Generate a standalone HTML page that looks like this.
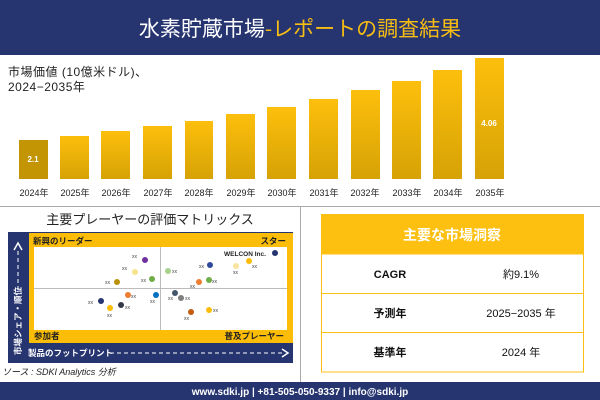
<!DOCTYPE html><html><head><meta charset="utf-8"><style>
*{margin:0;padding:0;box-sizing:border-box}
body{width:600px;height:400px;background:#fff;position:relative;overflow:hidden;font-family:"Liberation Sans","Noto Sans CJK JP",sans-serif}
.a{position:absolute}
</style></head><body>
<div class="a" style="left:0;top:0;width:600px;height:55px;background:#263470"></div>
<div class="a" style="left:0;top:13px;width:600px;text-align:center;font-size:21px;color:#fff;font-family:'Noto Sans CJK JP',sans-serif;line-height:30px">水素貯蔵市場<span style="color:#f7bd12">-レポートの調査結果</span></div>
<div class="a" style="left:8px;top:65px;font-size:12px;line-height:15px;color:#222;letter-spacing:.5px">市場価値 (10億米ドル)、<br>2024−2035年</div>
<svg class="a" style="left:0;top:0" width="600" height="400" font-family="Liberation Sans,Noto Sans CJK JP,sans-serif">
<defs><linearGradient id="g" x1="0" y1="0" x2="0" y2="1"><stop offset="0" stop-color="#fdbf0c"/><stop offset="1" stop-color="#d6a205"/></linearGradient></defs>
<g fill="url(#g)">
<rect x="19" y="140" width="29" height="39" fill="#c39505"/>
<rect x="60" y="136" width="29" height="43"/>
<rect x="101" y="131" width="29" height="48"/>
<rect x="143" y="126" width="29" height="53"/>
<rect x="185" y="121" width="28" height="58"/>
<rect x="226" y="114" width="29" height="65"/>
<rect x="267" y="107" width="29" height="72"/>
<rect x="309" y="99" width="29" height="80"/>
<rect x="351" y="90" width="29" height="89"/>
<rect x="392" y="81" width="29" height="98"/>
<rect x="433" y="70" width="29" height="109"/>
<rect x="475" y="58" width="29" height="121"/>
</g>
<text x="33" y="162" font-size="8" fill="#fff" font-weight="bold" text-anchor="middle">2.1</text>
<text x="489" y="126" font-size="8" fill="#fff" font-weight="bold" text-anchor="middle">4.06</text>
<g font-size="9" fill="#222" text-anchor="middle">
<text x="34" y="196">2024年</text><text x="75" y="196">2025年</text><text x="116" y="196">2026年</text><text x="158" y="196">2027年</text><text x="199" y="196">2028年</text><text x="241" y="196">2029年</text><text x="282" y="196">2030年</text><text x="324" y="196">2031年</text><text x="365" y="196">2032年</text><text x="407" y="196">2033年</text><text x="448" y="196">2034年</text><text x="490" y="196">2035年</text>
</g>
<line x1="0" y1="206.5" x2="600" y2="206.5" stroke="#aaa"/>
<line x1="300.5" y1="206" x2="300.5" y2="382" stroke="#aaa"/>
<text x="150" y="224" font-size="13" fill="#222" text-anchor="middle">主要プレーヤーの評価マトリックス</text>
<rect x="8" y="232" width="285" height="131" fill="#263470"/>
<rect x="29" y="233" width="264" height="110" fill="#fbbd08"/>
<rect x="34" y="247" width="253" height="83" fill="#fff"/>
<line x1="160.5" y1="247" x2="160.5" y2="330" stroke="#bbb"/>
<line x1="34" y1="288.5" x2="287" y2="288.5" stroke="#bbb"/>
<g font-size="8.5" fill="#222" font-weight="bold"><text x="33" y="244">新興のリーダー</text><text x="286" y="244" text-anchor="end">スター</text><text x="34" y="339">参加者</text><text x="284" y="339" text-anchor="end">普及プレーヤー</text></g>
<text x="28" y="356" font-size="8.5" fill="#fff" font-weight="bold">製品のフットプリント</text>
<line x1="110" y1="353" x2="283" y2="353" stroke="#fff" stroke-dasharray="4,3"/>
<path d="M282 349 L288 353 L282 357" fill="none" stroke="#fff" stroke-width="1.5"/>
<text transform="translate(21,355) rotate(-90)" font-size="8.5" fill="#fff" font-weight="bold">市場シェア・順位</text>
<line x1="18" y1="290" x2="18" y2="250" stroke="#fff" stroke-dasharray="4,3"/>
<path d="M14 250 L18 243 L22 250" fill="none" stroke="#fff" stroke-width="1.5"/>
<text x="224" y="256" font-size="6.5" font-weight="bold" fill="#222">WELCON Inc.</text>
<g font-size="5" fill="#444">
<text x="132" y="258">xx</text><text x="122" y="270">xx</text><text x="141" y="282">xx</text><text x="105" y="284">xx</text><text x="131" y="298">xx</text><text x="150" y="303">xx</text><text x="88" y="304">xx</text><text x="125" y="309">xx</text><text x="107" y="317">xx</text>
<text x="172" y="273">xx</text><text x="199" y="268">xx</text><text x="233" y="274">xx</text><text x="252" y="268">xx</text><text x="190" y="288">xx</text><text x="212" y="283">xx</text><text x="168" y="300">xx</text><text x="185" y="300">xx</text><text x="184" y="320">xx</text><text x="213" y="312">xx</text>
</g>
<circle cx="145" cy="260" r="3" fill="#7030a0"/><circle cx="135" cy="272" r="3" fill="#f5e38c"/><circle cx="152" cy="279" r="3" fill="#70ad47"/><circle cx="117" cy="282" r="3" fill="#b8900a"/><circle cx="128" cy="295" r="3" fill="#ed7d31"/><circle cx="156" cy="295" r="3" fill="#0070c0"/><circle cx="101" cy="301" r="3" fill="#263470"/><circle cx="121" cy="305" r="3" fill="#333848"/><circle cx="110" cy="308" r="3" fill="#fbbd08"/>
<circle cx="168" cy="271" r="3" fill="#a9d18e"/><circle cx="210" cy="265" r="3" fill="#2f4a9a"/><circle cx="236" cy="266" r="3" fill="#f7e4a0"/><circle cx="249" cy="261" r="3" fill="#fbbd08"/><circle cx="275" cy="253" r="3" fill="#263470"/><circle cx="199" cy="282" r="3" fill="#ed7d31"/><circle cx="209" cy="280" r="3" fill="#70ad47"/><circle cx="175" cy="293" r="3" fill="#44546a"/><circle cx="181" cy="298" r="3" fill="#7f7f7f"/><circle cx="191" cy="312" r="3" fill="#c55a11"/><circle cx="209" cy="310" r="3" fill="#fbbd08"/>
<text x="2" y="375" font-size="9" font-style="italic" fill="#222">ソース : SDKI Analytics 分析</text>
<rect x="321" y="214" width="263" height="40" fill="#fdc010"/>
<text x="452" y="240" font-size="14" fill="#fff" text-anchor="middle" font-weight="bold">主要な市場洞察</text>
<rect x="321.5" y="254" width="262" height="118" fill="none" stroke="#fdc010"/>
<line x1="321" y1="293.5" x2="584" y2="293.5" stroke="#fdc010"/>
<line x1="321" y1="332.5" x2="584" y2="332.5" stroke="#fdc010"/>
<g font-size="11" fill="#111" text-anchor="middle"><text x="390" y="278" font-weight="bold">CAGR</text><text x="390" y="317" font-weight="bold">予測年</text><text x="390" y="356" font-weight="bold">基準年</text>
<text x="521" y="278">約9.1%</text><text x="521" y="317">2025−2035 年</text><text x="521" y="356">2024 年</text></g>
<rect x="0" y="382" width="600" height="18" fill="#263470"/>
<text x="300" y="395" font-size="10" font-weight="bold" fill="#fff" text-anchor="middle">www.sdki.jp | +81-505-050-9337 | info@sdki.jp</text>
</svg>
</body></html>
